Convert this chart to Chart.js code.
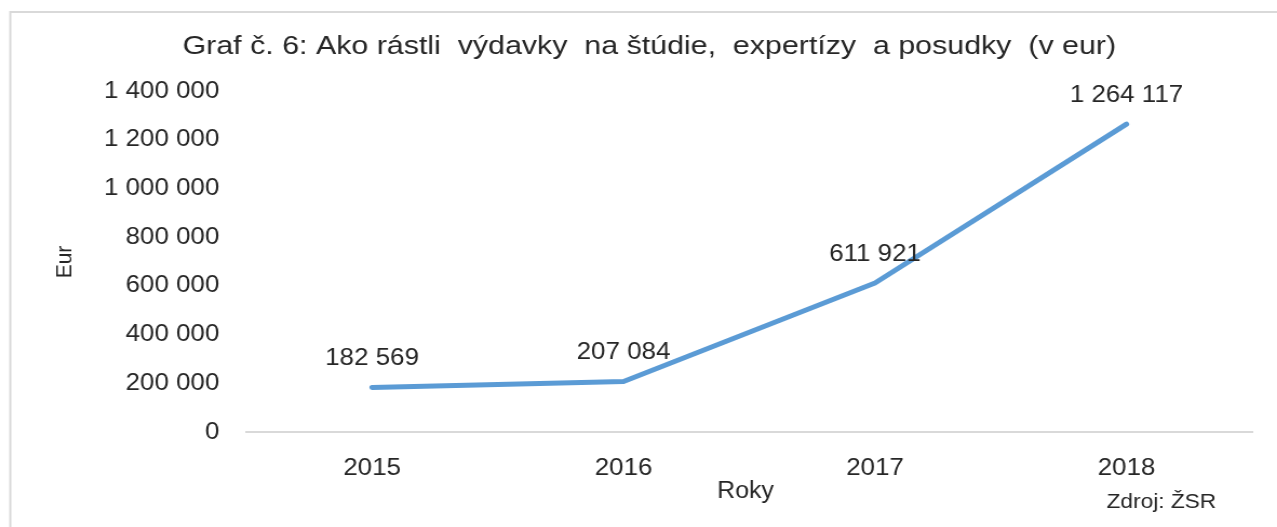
<!DOCTYPE html>
<html>
<head>
<meta charset="utf-8">
<script src="https://cdn.jsdelivr.net/npm/chart.js@4/dist/chart.umd.min.js"></script>
<style>
  html, body { margin: 0; padding: 0; background: #fff; overflow: hidden; }
  #wrap { width: 1182px; height: 527px; transform: scaleX(1.0804); transform-origin: 0 0; }
</style>
</head>
<body>
<div id="wrap"><canvas id="myChart" width="1182" height="527"></canvas></div>
<script>
const roky = ['2015', '2016', '2017', '2018'];
const vydavky = [182569, 207084, 611921, 1264117];
const yTicky = [0, 200000, 400000, 600000, 800000, 1000000, 1200000, 1400000];

const nadpis = 'Graf č. 6: Ako rástli  výdavky  na štúdie,  expertízy  a posudky  (v eur)';
const farbaTextu = '#262626';
const pismo = '"Liberation Sans", Arial, sans-serif';

function formatCislo(v) {
    return String(v).replace(/\B(?=(\d{3})+(?!\d))/g, ' ');
}

// popisky, nadpis a ramik
const popisky = {
    id: 'popisky',
    afterDraw(chart) {
        const ctx = chart.ctx;
        const meta = chart.getDatasetMeta(0);
        ctx.save();
        ctx.strokeStyle = '#d9d9d9';
        ctx.lineWidth = 2;
        ctx.strokeRect(9.5, 12, 1300, 600);

        ctx.fillStyle = farbaTextu;
        ctx.textAlign = 'center';
        ctx.textBaseline = 'middle';

        // nadpis je v povodnom obrazku sirsi
        ctx.save();
        ctx.font = '25px ' + pismo;
        const w = ctx.measureText(nadpis).width;
        ctx.translate(601, 47);
        ctx.scale(864 / w, 1);
        ctx.fillText(nadpis, 0, 0);
        ctx.restore();

        ctx.font = '24px ' + pismo;
        meta.data.forEach(function (pt, i) {
            ctx.fillText(formatCislo(vydavky[i]), pt.x, pt.y - 29);
        });

        ctx.font = '23px ' + pismo;
        ctx.fillText('Roky', 690, 492);
        ctx.font = '21px ' + pismo;
        ctx.fillText('Zdroj: ŽSR', 1075, 502);

        ctx.translate(60, 262);
        ctx.rotate(-Math.PI / 2);
        ctx.font = '21px ' + pismo;
        ctx.fillText('Eur', 0, 0);
        ctx.restore();
    }
};

const ctx = document.getElementById('myChart');
const lineChart = new Chart(ctx, {
    type: 'line',
    data: {
        labels: roky,
        datasets: [{
            label: 'Výdavky',
            data: vydavky,
            borderColor: '#5b9bd5',
            backgroundColor: '#5b9bd5',
            borderWidth: 5,
            borderCapStyle: 'round',
            borderJoinStyle: 'round',
            pointRadius: 0,
            tension: 0
        }]
    },
    options: {
        responsive: false,
        animation: false,
        layout: { padding: { top: 91, right: 23, left: 0, bottom: 0 } },
        plugins: {
            legend: { display: false },
            tooltip: { enabled: false }
        },
        scales: {
            x: {
                offset: true,
                grid: { display: false },
                border: { display: true, color: '#d9d9d9', width: 2 },
                ticks: { color: farbaTextu, font: { size: 24, family: pismo }, padding: 14 },
                afterFit(scale) { scale.height = 95; }
            },
            y: {
                min: 0,
                max: 1400000,
                grid: { display: false },
                border: { display: false },
                afterBuildTicks(scale) { scale.ticks = yTicky.map(v => ({ value: v })); },
                ticks: {
                    color: farbaTextu,
                    font: { size: 24, family: pismo },
                    padding: 17,
                    callback: v => formatCislo(v)
                },
                afterFit(scale) { scale.width = 228; }
            }
        }
    },
    plugins: [popisky]
});
</script>
</body>
</html>
